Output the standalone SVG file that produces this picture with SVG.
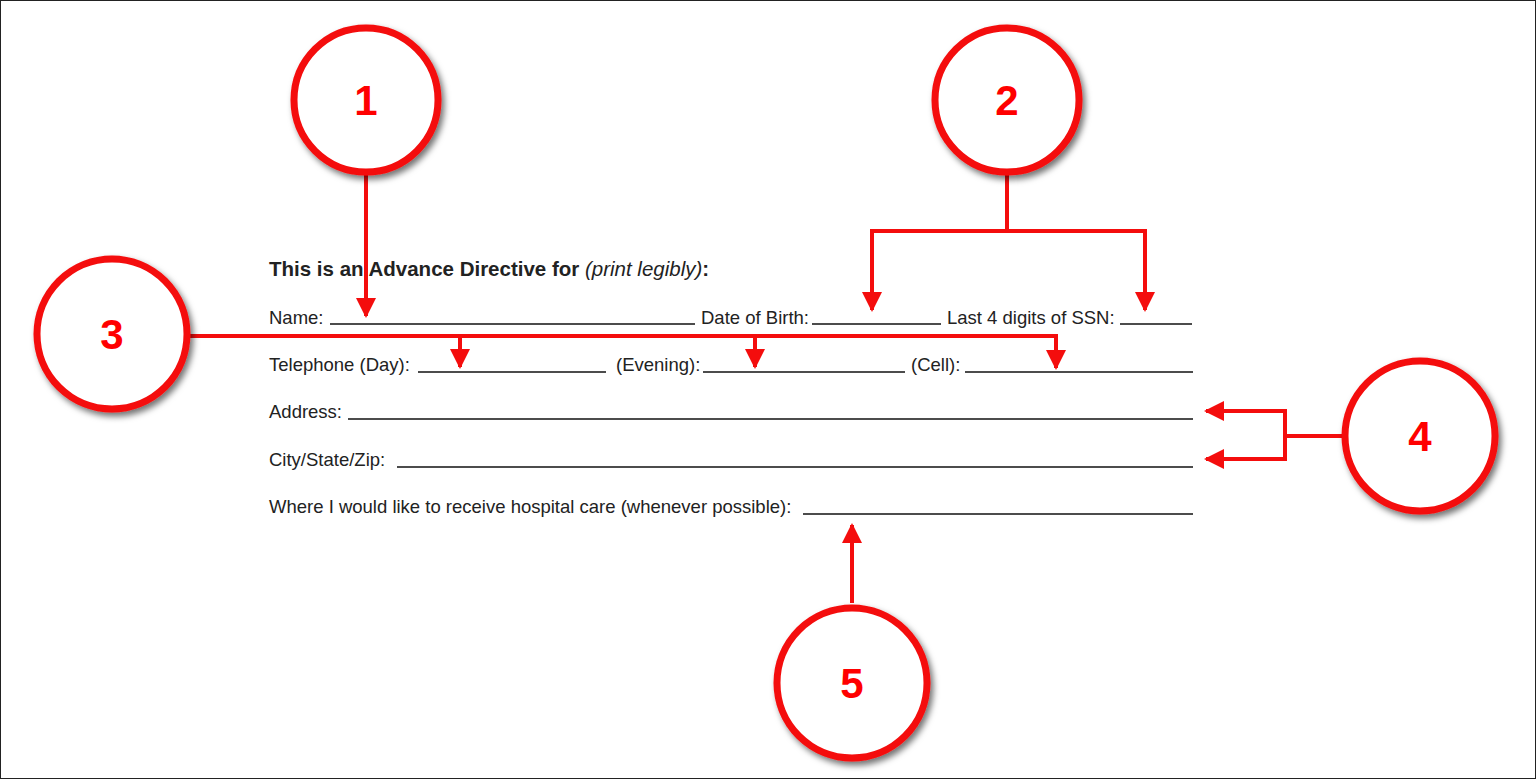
<svg xmlns="http://www.w3.org/2000/svg" width="1536" height="779" viewBox="0 0 1536 779">
<style>
text{font-family:"Liberation Sans",Arial,sans-serif;font-size:18.5px;fill:#222}
.ul{stroke:#111;stroke-width:1.4}
.c{fill:#fff;stroke:#f40d0d;stroke-width:7;filter:url(#sh)}
.n{font-size:42px;font-weight:bold;fill:#f00;text-anchor:middle}
.k{fill:none;stroke:#f40d0d;stroke-width:4}
</style>
<defs>
<filter id="sh" x="-20%" y="-20%" width="150%" height="150%"><feDropShadow dx="3" dy="4" stdDeviation="3" flood-color="#000" flood-opacity="0.55"/></filter>
<marker id="a" viewBox="0 0 10 10" refX="9" refY="5" markerWidth="5" markerHeight="5.5" orient="auto" markerUnits="strokeWidth"><path d="M0,0L10,5L0,10z" fill="#f40d0d"/></marker>
</defs>
<rect x="0.5" y="0.5" width="1535" height="778" fill="#fff" stroke="#222" stroke-width="1"/>
<g id="form">
<text x="269" y="276" font-weight="bold" style="font-size:20.5px">This is an Advance Directive for <tspan font-weight="normal" font-style="italic">(print legibly)</tspan>:</text>
<text x="269" y="324">Name:</text><line class="ul" x1="330" y1="324" x2="695" y2="324"/>
<text x="701" y="324">Date of Birth:</text><line class="ul" x1="812" y1="324" x2="941" y2="324"/>
<text x="947" y="324">Last 4 digits of SSN:</text><line class="ul" x1="1120" y1="324" x2="1192" y2="324"/>
<text x="269" y="371">Telephone (Day):</text><line class="ul" x1="418" y1="372" x2="606" y2="372"/>
<text x="616" y="371">(Evening):</text><line class="ul" x1="703" y1="372" x2="905" y2="372"/>
<text x="911" y="371">(Cell):</text><line class="ul" x1="965" y1="372" x2="1193" y2="372"/>
<text x="269" y="418">Address:</text><line class="ul" x1="348" y1="419" x2="1193" y2="419"/>
<text x="269" y="466">City/State/Zip:</text><line class="ul" x1="397" y1="467" x2="1193" y2="467"/>
<text x="269" y="513">Where I would like to receive hospital care (whenever possible):</text><line class="ul" x1="803" y1="514" x2="1193" y2="514"/>
</g>
<g id="connectors">
<path class="k" d="M366,172V316" marker-end="url(#a)"/>
<path class="k" d="M1007,172V231H872V310" marker-end="url(#a)"/>
<path class="k" d="M1007,231H1145V310"  marker-end="url(#a)"/>
<path class="k" d="M188,336H1058"/>
<path class="k" d="M460,336V367" marker-end="url(#a)"/>
<path class="k" d="M755,336V367" marker-end="url(#a)"/>
<path class="k" d="M1056,336V368" marker-end="url(#a)"/>
<path class="k" d="M1344,436H1285"/>
<path class="k" d="M1285,411V459"/>
<path class="k" d="M1287,411H1206" marker-end="url(#a)"/>
<path class="k" d="M1287,459H1206" marker-end="url(#a)"/>
<path class="k" d="M852,603V525" marker-end="url(#a)"/>
</g>
<g id="n1"><circle class="c" cx="366" cy="100" r="72"/><text class="n" x="366" y="115">1</text></g>
<g id="n2"><circle class="c" cx="1007" cy="100" r="72"/><text class="n" x="1007" y="115">2</text></g>
<g id="n3"><circle class="c" cx="112" cy="334" r="75"/><text class="n" x="112" y="349">3</text></g>
<g id="n4"><circle class="c" cx="1420" cy="436" r="75"/><text class="n" x="1420" y="451">4</text></g>
<g id="n5"><circle class="c" cx="852" cy="683" r="75"/><text class="n" x="852" y="698">5</text></g>
</svg>
